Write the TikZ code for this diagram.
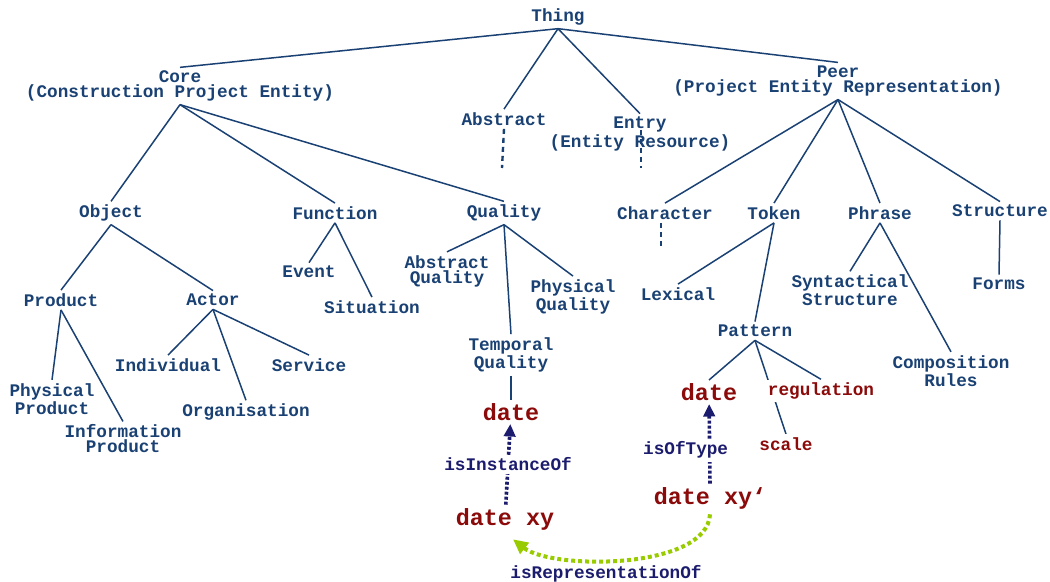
\documentclass[tikz,border=0pt]{standalone}
\usepackage{fontspec}
\setmainfont{Liberation Mono}
\usetikzlibrary{arrows.meta, positioning}
\pgfdeclarelayer{bg}
\pgfsetlayers{bg,main}

\begin{document}
\begin{tikzpicture}[
  x=0.5pt, y=-0.5pt,
  >={Triangle[length=2.2mm, width=2mm]},
  cls/.style={text=cblue, font=\fontsize{8.85}{7.5}\selectfont\bfseries,
              align=center, inner sep=1.5pt},
  inst/.style={text=cred, font=\fontsize{11.7}{12}\selectfont\bfseries, inner sep=1.5pt},
  val/.style={text=cred, font=\fontsize{8.85}{9}\selectfont\bfseries, inner sep=1.5pt, fill=white},
  rel/.style={text=cnavy, font=\fontsize{8.85}{9}\selectfont\bfseries, inner sep=1.5pt, fill=white},
  isa/.style={draw=cblue, line width=0.75pt},
  open/.style={draw=cblue, line width=1.2pt, dash pattern=on 2.5pt off 2pt},
  typearr/.style={->, draw=cnavy, line width=1.8pt, dash pattern=on 1.5pt off 1pt},
  reparr/.style={-{Triangle[length=2.6mm, width=2.4mm]}, draw=cgreen, line width=2pt,
                 dash pattern=on 2pt off 1.5pt},
]
\definecolor{cblue}{HTML}{1A4173}
\definecolor{cnavy}{HTML}{1C1C6E}
\definecolor{cred}{HTML}{8B0A0A}
\definecolor{cgreen}{HTML}{99CC00}
\useasboundingbox (0,0) rectangle (1050,582);
% upper levels
\node[cls] (thing) at (558,17) {Thing};
\node[cls] (core) at (180,86) {Core\\(Construction Project Entity)};
\node[cls] (abstract) at (504,119) {Abstract};
\node[cls] (entry) at (640,134) {Entry\\(Entity Resource)};
\node[cls] (peer) at (838,81) {Peer\\(Project Entity Representation)};
\node[cls] (object) at (111,213) {Object};
\node[cls] (function) at (335,213) {Function};
\node[cls] (quality) at (504,213) {Quality};
\node[cls] (character) at (665,213) {Character};
\node[cls] (token) at (774,213) {Token};
\node[cls] (phrase) at (880,213) {Phrase};
\node[cls] (structure) at (1000,211) {Structure};
% lower levels
\node[cls] (product) at (61,300) {Product};
\node[cls] (actor) at (213,300) {Actor};
\node[cls] (event) at (309,272) {Event};
\node[cls] (situation) at (372,307) {Situation};
\node[cls] (absquality) at (447,271) {Abstract\\Quality};
\node[cls] (physquality) at (573,297) {Physical\\Quality};
\node[cls] (tempquality) at (511,355) {Temporal\\Quality};
\node[cls] (lexical) at (678,294) {Lexical};
\node[cls] (pattern) at (755,331) {Pattern};
\node[cls] (syntstructure) at (850,290) {Syntactical\\Structure};
\node[cls] (comprules) at (951,371) {Composition\\Rules};
\node[cls] (forms) at (999,284) {Forms};
\node[cls] (physproduct) at (52,399) {Physical\\Product};
\node[cls] (infoproduct) at (123,439) {Information\\Product};
\node[cls] (individual) at (168,365) {Individual};
\node[cls] (organisation) at (246,412) {Organisation};
\node[cls] (service) at (309,365) {Service};
% instances
\node[inst] (dateq) at (511,412) {date};
\node[inst] (datexy) at (505,519) {date xy};
\node[inst] (datep) at (709,392) {date};
\node[inst] (datexyp) at (710,498) {date xy`};
\node[val] (regulation) at (821,391) {regulation};
\node[val] (scale) at (786,444) {scale};
\node[rel, fill=none] (reprof) at (606,574) {isRepresentationOf};
\coordinate (abstractend) at (502,168);
\coordinate (entryend) at (641,168);
\coordinate (characterend) at (661,248);

\begin{pgfonlayer}{bg}
\foreach \a/\b in {thing/core, thing/abstract, thing/entry, thing/peer,
                   core/object, core/function, core/quality,
                   object/product, object/actor, function/event, function/situation,
                   quality/absquality, quality/tempquality, quality/physquality,
                   tempquality/dateq, product/physproduct, product/infoproduct,
                   actor/individual, actor/organisation, actor/service,
                   peer/character, peer/token, peer/phrase, peer/structure,
                   token/lexical, token/pattern, phrase/syntstructure, phrase/comprules,
                   structure/forms, pattern/datep, pattern/scale, pattern/regulation}
  \draw[isa] (\a.south) -- (\b.north);
\draw[open] (abstract.south) -- (abstractend);
\draw[open] ([xshift=0.5pt, yshift=2pt]entry.center) -- (entryend);
\draw[open] ([xshift=-2pt]character.south) -- (characterend);
\draw[typearr] (datexy) -- node[rel] {isInstanceOf} (dateq);
\draw[typearr] (datexyp.north) -- node[rel, pos=0.42, xshift=-12pt] {isOfType} (datep);
\draw[reparr] ([yshift=-1pt]datexyp.south) .. controls (707,570) and (552,570) ..
  ([xshift=4pt, yshift=-3pt]datexy.south);
\end{pgfonlayer}
\end{tikzpicture}
\end{document}
